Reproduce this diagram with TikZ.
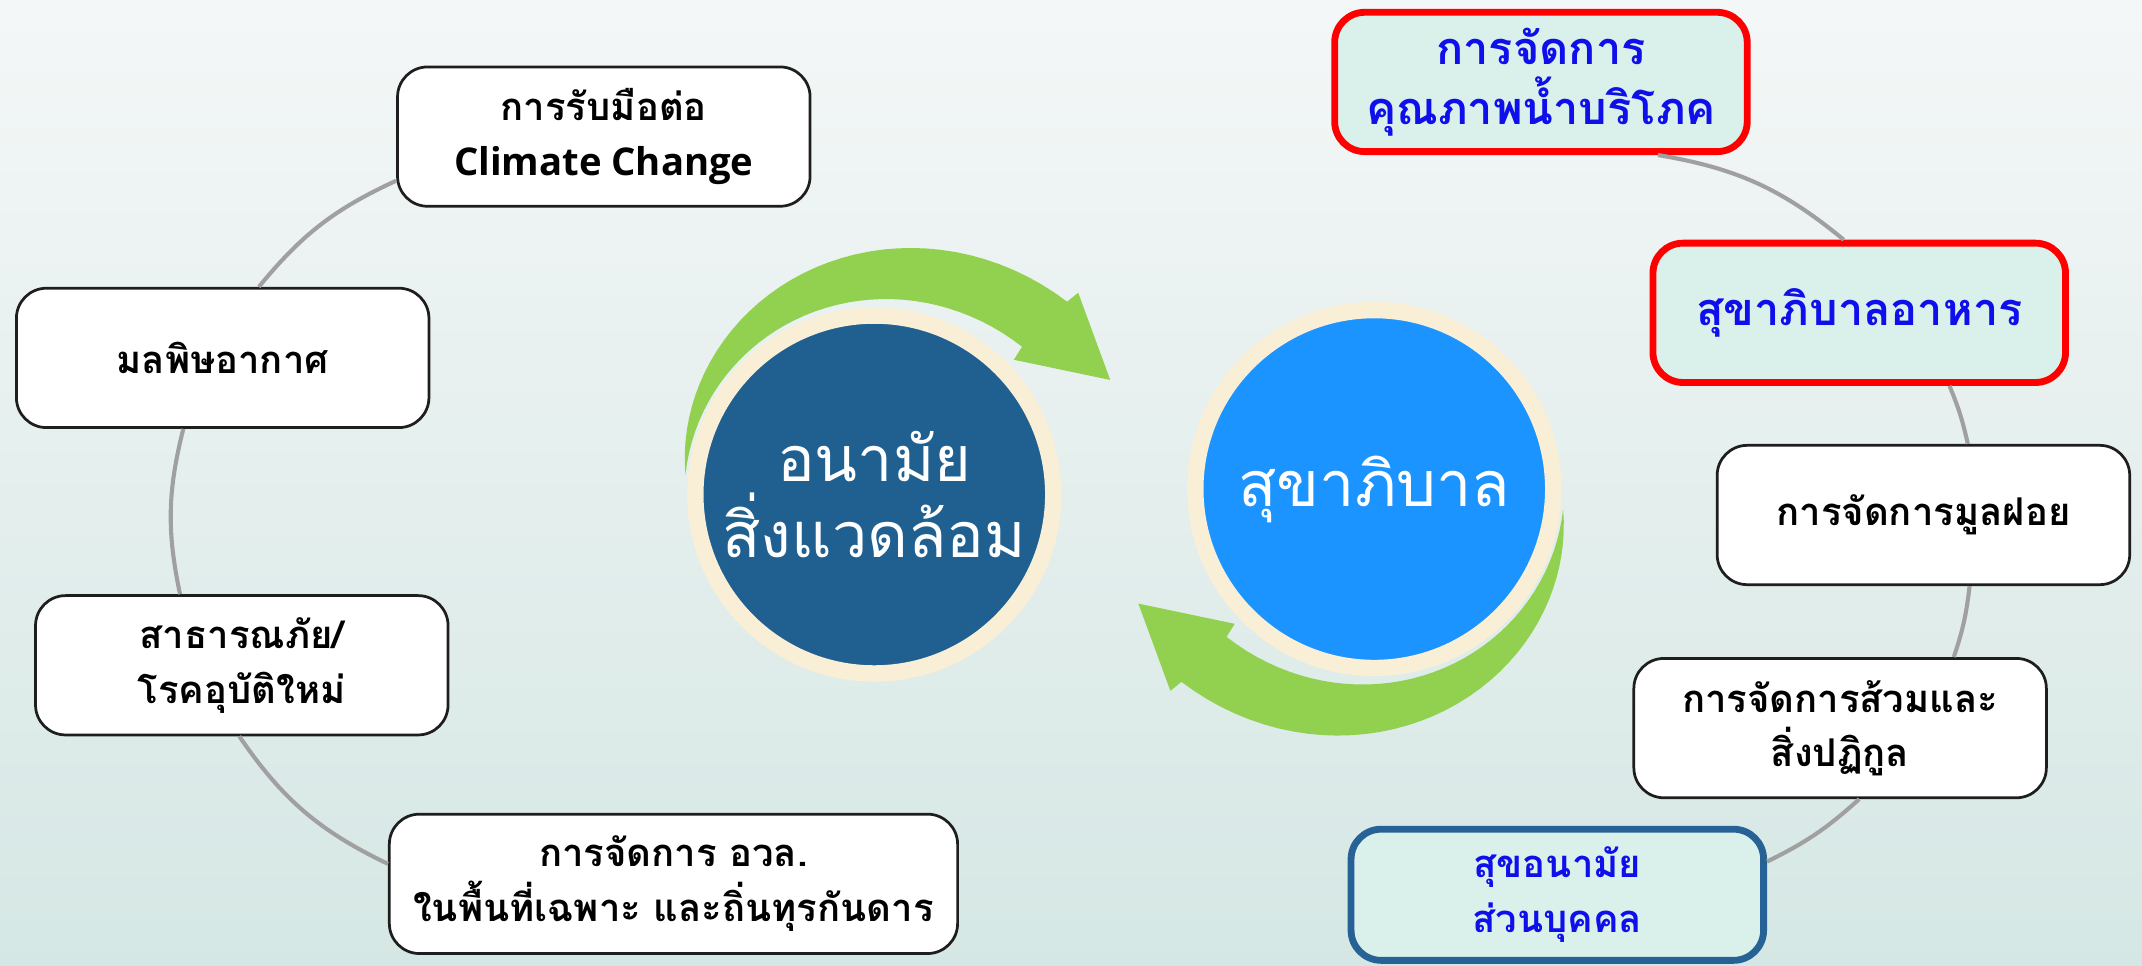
\documentclass[tikz,border=0pt]{standalone}
\usepackage{fontspec}
\setmainfont{Open Sans}
\newfontfamily\thaifont[Script=Thai]{Loma}

\definecolor{bgtop}{RGB}{244,247,247}
\definecolor{bgbot}{RGB}{213,231,228}
\definecolor{boxline}{RGB}{30,30,30}
\definecolor{keyred}{RGB}{255,0,0}
\definecolor{keyfill}{RGB}{218,240,234}
\definecolor{thaiblue}{RGB}{15,15,235}
\definecolor{hygline}{RGB}{38,98,150}
\definecolor{linkgray}{RGB}{160,160,160}
\definecolor{envblue}{RGB}{31,96,145}
\definecolor{sanblue}{RGB}{28,148,255}
\definecolor{cream}{RGB}{249,238,214}
\definecolor{leaf}{RGB}{146,208,80}

\begin{document}
\begin{tikzpicture}[x=0.5pt,y=0.5pt,
	item/.style={draw=boxline, line width=1pt, fill=white, rounded corners=11pt,
		minimum width=151pt, minimum height=51pt, inner sep=2pt, align=center,
		font=\thaifont\bfseries\fontsize{14}{20}\selectfont},
	keyitem/.style={item, draw=keyred, line width=2.5pt, fill=keyfill, text=thaiblue,
		font=\thaifont\bfseries\fontsize{16.5}{22}\selectfont},
	hub/.style={circle, draw=cream, line width=6pt, minimum size=131pt, align=center,
		text=white, font=\thaifont\fontsize{23}{28}\selectfont},
	link/.style={draw=linkgray, line width=1.5pt},
	leafarrow/.style={fill=leaf}]
	\fill[top color=bgtop, bottom color=bgbot] (0,0) rectangle (1568,707);
	\useasboundingbox (0,0) rectangle (1568,707);

	\begin{scope}[shift={(640,345)}]
		\fill[leafarrow] plot[domain=174:45, samples=40, variable=\t] (\t:{139+0.47*(174-\t)})
			-- (44.7:210) -- (25.9:192) -- (44:142)
			-- plot[domain=45:174, samples=40, variable=\t] (\t:{139+14*((174-\t)/129)^3}) -- cycle;
	\end{scope}
	\begin{scope}[shift={(1006,349)}, rotate=180]
		\fill[leafarrow] plot[domain=174:45, samples=40, variable=\t] (\t:{139+0.47*(174-\t)})
			-- (44.7:210) -- (25.9:192) -- (44:142)
			-- plot[domain=45:174, samples=40, variable=\t] (\t:{139+14*((174-\t)/129)^3}) -- cycle;
	\end{scope}

	\node[hub, fill=envblue] (env) at (640,345) {อนามัย\\สิ่งแวดล้อม};
	\node[hub, fill=sanblue] (san) at (1006,349) {สุขาภิบาล};

	\node[item] (cope) at (442,607) {การรับมือต่อ\\{\rmfamily Climate Change}};
	\node[item] (air) at (163,445) {มลพิษอากาศ};
	\node[item] (hazard) at (177,220) {สาธารณภัย/\\โรคอุบัติใหม่};
	\node[item, minimum width=208pt] (remote) at (493,60) {การจัดการ อวล.\\ในพื้นที่เฉพาะ และถิ่นทุรกันดาร};

	\node[keyitem] (water) at (1128,647) {การจัดการ\\คุณภาพน้ำบริโภค};
	\node[keyitem] (food) at (1361,478) {สุขาภิบาลอาหาร};
	\node[item] (waste) at (1408,330) {การจัดการมูลฝอย};
	\node[item] (toilet) at (1347,174) {การจัดการส้วมและ\\สิ่งปฏิกูล};
	\node[keyitem, draw=hygline, minimum height=48pt, font=\thaifont\bfseries\fontsize{14}{20}\selectfont] (hygiene) at (1140,52) {สุขอนามัย\\ส่วนบุคคล};

	\draw[link] (cope.192) to[bend right=13] (air.63);
	\draw[link] (air.241) to[bend right=13] (hazard.131);
	\draw[link] (hazard.268) to[bend right=15] (remote.176);

	\draw[link] (water.-32) to[bend left=15] (food.102);
	\draw[link] (food.-39) to[bend left=5] (waste.58);
	\draw[link] (waste.-57) to[bend left=6] (toilet.32);
	\draw[link] (toilet.-75) to[bend left=8] (hygiene.9);
\end{tikzpicture}
\end{document}
